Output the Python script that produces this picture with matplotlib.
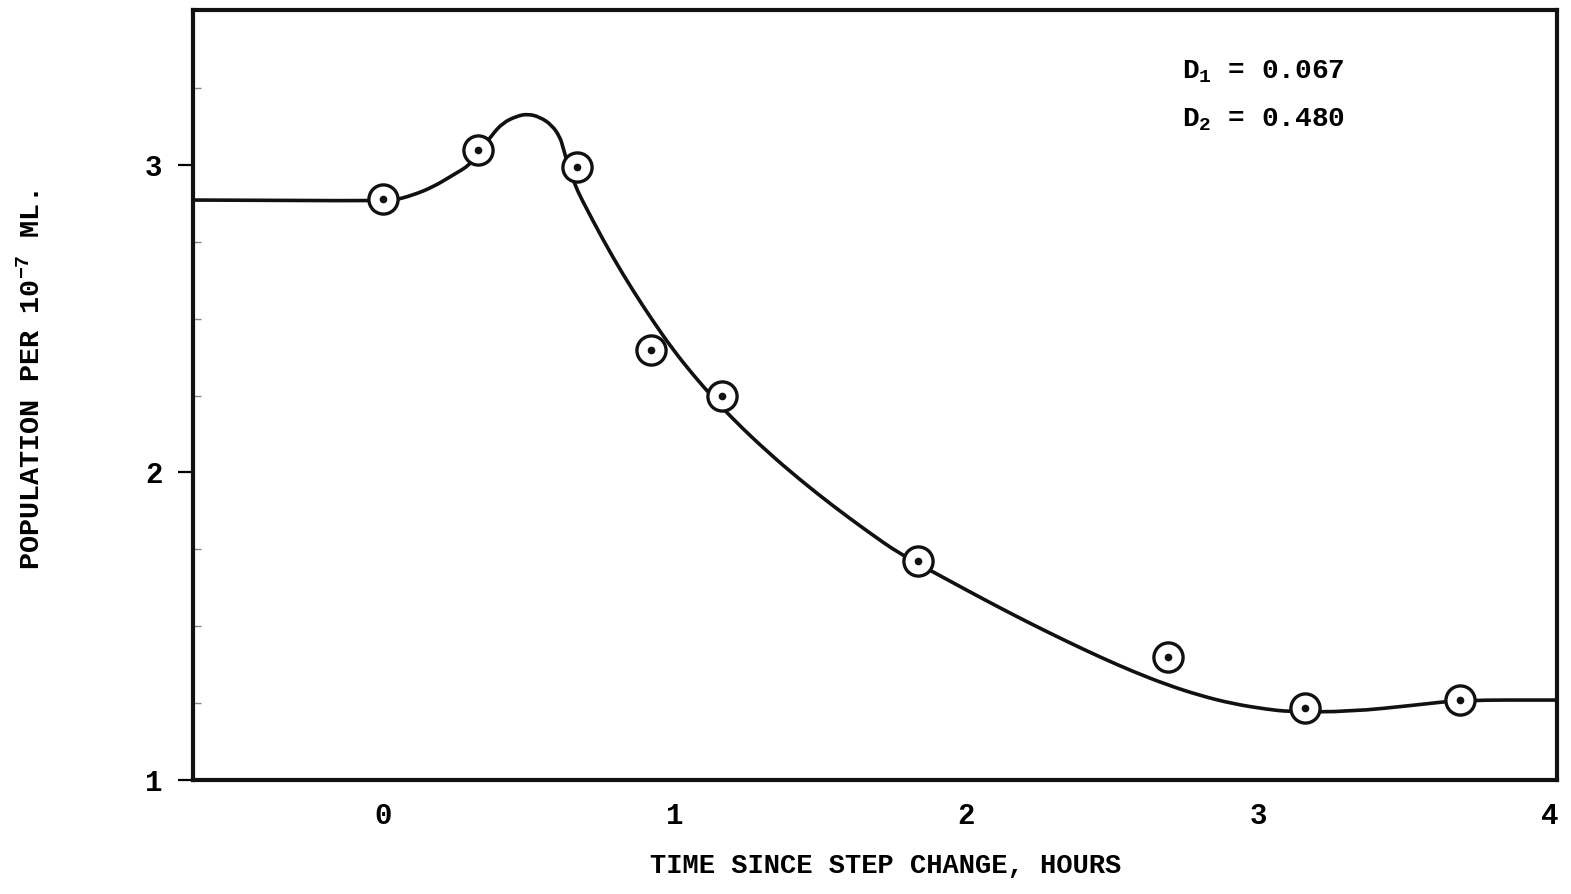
import matplotlib
matplotlib.use("Agg")
import matplotlib.pyplot as plt
from matplotlib.path import Path
from matplotlib.patches import PathPatch

plt.rcParams['font.family'] = ['Liberation Mono', 'DejaVu Sans Mono']
plt.rcParams['mathtext.default'] = 'regular'

# Fitted curve
curve_x = [-0.651, 0.0, 0.041, 0.103, 0.171, 0.240, 0.298, 0.330, 0.374, 0.411,
           0.459, 0.497, 0.538, 0.579, 0.607, 0.617, 0.651, 0.720, 0.788, 0.857,
           0.926, 0.994, 1.063, 1.135, 1.207, 1.316, 1.429, 1.542, 1.659, 1.772,
           1.909, 2.002, 2.115, 2.228, 2.344, 2.458, 2.571, 2.687, 2.800, 2.913,
           3.030, 3.109, 3.314, 3.544, 3.691, 4.025]
curve_y = [2.886, 2.883, 2.886, 2.902, 2.928, 2.967, 3.000, 3.040, 3.098, 3.137,
           3.159, 3.166, 3.156, 3.130, 3.091, 3.059, 2.945, 2.818, 2.700, 2.592,
           2.492, 2.400, 2.318, 2.240, 2.167, 2.069, 1.977, 1.892, 1.810, 1.735,
           1.665, 1.617, 1.560, 1.505, 1.451, 1.400, 1.353, 1.310, 1.275, 1.248,
           1.230, 1.222, 1.222, 1.244, 1.260, 1.260]

# Observed points
obs_x = [0.0, 0.326, 0.665, 0.918, 1.162, 1.834, 2.691, 3.160, 3.691]
obs_y = [2.889, 3.049, 2.993, 2.398, 2.249, 1.712, 1.400, 1.234, 1.260]

x_ticks = [0, 1, 2, 3, 4]
x_labels = ['0', '1', '2', '3', '4']
y_ticks = [1, 2, 3]
y_labels = ['1', '2', '3']
y_minor = [1.25, 1.5, 1.75, 2.25, 2.5, 2.75, 3.25]

fig = plt.figure(figsize=(15.71, 8.94), dpi=100)
ax = fig.add_axes([193/1571, 1 - 780/894, (1557-193)/1571, (780-10)/894])

# smooth hand-drawn style curve: quadratic Bezier through midpoints of read points
pts = list(zip(curve_x, curve_y))
verts = [pts[0]]
codes = [Path.MOVETO]
for i in range(1, len(pts) - 1):
    mid = ((pts[i][0] + pts[i+1][0]) / 2, (pts[i][1] + pts[i+1][1]) / 2)
    verts += [pts[i], mid]
    codes += [Path.CURVE3, Path.CURVE3]
verts.append(pts[-1])
codes.append(Path.LINETO)
ax.add_patch(PathPatch(Path(verts, codes), facecolor='none', edgecolor='#111111',
                       lw=2.6, capstyle='round', joinstyle='round', zorder=2))

ax.plot(obs_x, obs_y, linestyle='none', marker='o', markersize=21,
        markerfacecolor='white', markeredgecolor='#111111', markeredgewidth=2.4,
        zorder=3)
ax.plot(obs_x, obs_y, linestyle='none', marker='o', markersize=4.5,
        color='#111111', zorder=4)

ax.set_xlim(-0.651, 4.025)
ax.set_ylim(1.0, 3.504)

for s in ax.spines.values():
    s.set_linewidth(3.0)
    s.set_color('#111111')

ax.set_xticks(x_ticks)
ax.set_xticklabels(x_labels, fontsize=21, fontweight='bold')
ax.set_yticks(y_ticks)
ax.set_yticklabels(y_labels, fontsize=21, fontweight='bold')
ax.set_yticks(y_minor, minor=True)
ax.tick_params(axis='x', length=0, pad=16)
ax.tick_params(axis='y', which='major', direction='out', length=11, width=1.6, pad=11)
ax.tick_params(axis='y', which='minor', direction='in', length=6, width=1.0, color='#888888')

ax.set_xlabel('TIME SINCE STEP CHANGE, HOURS', fontsize=19.5, fontweight='bold')
ax.xaxis.set_label_coords(0.508, -0.095)
ax.set_ylabel('POPULATION PER 10$^{-7}$ ML.', fontsize=20.5, fontweight='bold')
ax.yaxis.set_label_coords(-0.108, 0.519)

ax.text(0.725, 0.92, 'D$_1$ = 0.067', transform=ax.transAxes, fontsize=20,
        fontweight='bold', ha='left', va='center')
ax.text(0.725, 0.857, 'D$_2$ = 0.480', transform=ax.transAxes, fontsize=20,
        fontweight='bold', ha='left', va='center')

fig.savefig('out.png', dpi=100, facecolor='white')
